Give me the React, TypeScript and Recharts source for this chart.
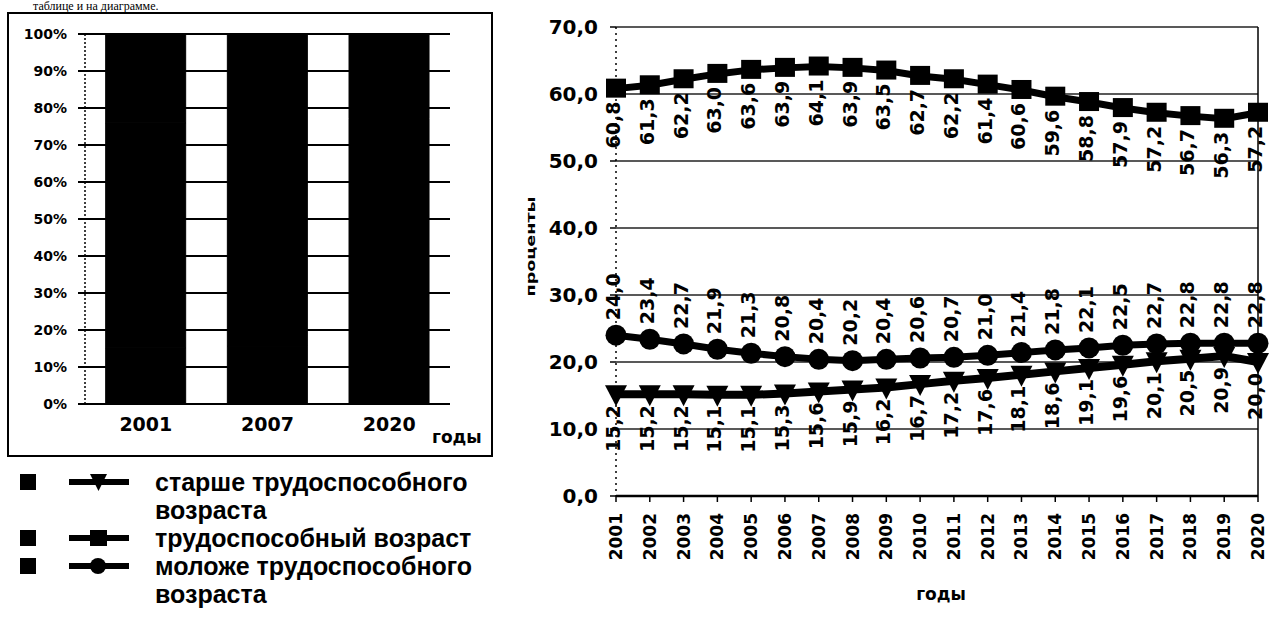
import React from "react"
import {
  BarChart,
  Bar,
  LineChart,
  Line,
  XAxis,
  YAxis,
  CartesianGrid,
  LabelList,
  ReferenceLine
} from "recharts"

// годы для линейной диаграммы
const years = [
  "2001", "2002", "2003", "2004", "2005", "2006", "2007", "2008", "2009", "2010",
  "2011", "2012", "2013", "2014", "2015", "2016", "2017", "2018", "2019", "2020"
]

// доля населения, %
const working = [
  60.8, 61.3, 62.2, 63.0, 63.6, 63.9, 64.1, 63.9, 63.5, 62.7,
  62.2, 61.4, 60.6, 59.6, 58.8, 57.9, 57.2, 56.7, 56.3, 57.2
]
const younger = [
  24.0, 23.4, 22.7, 21.9, 21.3, 20.8, 20.4, 20.2, 20.4, 20.6,
  20.7, 21.0, 21.4, 21.8, 22.1, 22.5, 22.7, 22.8, 22.8, 22.8
]
const older = [
  15.2, 15.2, 15.2, 15.1, 15.1, 15.3, 15.6, 15.9, 16.2, 16.7,
  17.2, 17.6, 18.1, 18.6, 19.1, 19.6, 20.1, 20.5, 20.9, 20.0
]

const lineTicks = [0, 10, 20, 30, 40, 50, 60, 70]

// столбчатая диаграмма (100%)
const barYears = ["2001", "2007", "2020"]
const barOlder = [15.2, 15.6, 20.0]
const barWorking = [60.8, 64.1, 57.2]
const barYounger = [24.0, 20.4, 22.8]
const pctTicks = [0, 10, 20, 30, 40, 50, 60, 70, 80, 90, 100]

const legendItems = [
  { name: ["старше трудоспособного", "возраста"], marker: "triangle" },
  { name: ["трудоспособный возраст"], marker: "square" },
  { name: ["моложе трудоспособного", "возраста"], marker: "circle" }
]

const lineData = years.map((year, i) => ({
  year,
  working: working[i],
  younger: younger[i],
  older: older[i]
}))

const barData = barYears.map((year, i) => ({
  year,
  older: barOlder[i],
  working: barWorking[i],
  younger: barYounger[i]
}))

const FONT = "'DejaVu Sans', sans-serif"
const fmt = (v: number) => v.toFixed(1).replace(".", ",")

function SquareDot(props: any) {
  const { cx, cy, index } = props
  if (cx == null || cy == null) return null
  return <rect key={index} x={cx - 10} y={cy - 10} width={20} height={19} fill="#000" />
}

function CircleDot(props: any) {
  const { cx, cy, index } = props
  if (cx == null || cy == null) return null
  return <circle key={index} cx={cx} cy={cy} r={10.5} fill="#000" />
}

function TriangleDot(props: any) {
  const { cx, cy, index } = props
  if (cx == null || cy == null) return null
  return (
    <path
      key={index}
      d={`M${cx - 11},${cy - 9} L${cx + 11},${cy - 9} L${cx},${cy + 12} Z`}
      fill="#000"
    />
  )
}

// подписи значений, повернутые на 90°
function rotatedLabel(gap: number, below: boolean) {
  return (props: any) => {
    const { x, y, value, index } = props
    if (x == null || y == null) return null
    const lx = x - 3
    const ly = below ? y + gap : y - gap
    return (
      <text
        key={index}
        x={lx}
        y={ly}
        transform={`rotate(-90 ${lx} ${ly})`}
        textAnchor={below ? "end" : "start"}
        dominantBaseline="central"
        fontFamily={FONT}
        fontWeight="bold"
        fontSize={19}
        fill="#000"
      >
        {fmt(Number(value))}
      </text>
    )
  }
}

function YearTick(props: any) {
  const { x, y, payload } = props
  return (
    <text
      x={x}
      y={y}
      transform={`rotate(-90 ${x} ${y})`}
      textAnchor="end"
      dominantBaseline="central"
      fontFamily={FONT}
      fontWeight="bold"
      fontSize={17}
      fill="#000"
    >
      {payload.value}
    </text>
  )
}

function LegendIcon({ marker }: { marker: string }) {
  return (
    <svg width={60} height={20} style={{ display: "block" }}>
      <line x1={0} y1={10} x2={60} y2={10} stroke="#000" strokeWidth={6} />
      {marker === "square" && <rect x={21} y={2} width={17} height={16} fill="#000" />}
      {marker === "circle" && <circle cx={29} cy={10} r={8} fill="#000" />}
      {marker === "triangle" && <path d="M21,2 L38,2 L29.5,19 Z" fill="#000" />}
    </svg>
  )
}

export default function App() {
  return (
    <div
      style={{
        position: "absolute",
        left: 0,
        top: 0,
        width: 1269,
        height: 631,
        overflow: "hidden",
        background: "#fff"
      }}
    >
      <div
        style={{
          position: "absolute",
          left: 33,
          top: 0,
          fontFamily: "'Liberation Serif', 'Times New Roman', serif",
          fontSize: 12,
          lineHeight: "12px",
          whiteSpace: "nowrap"
        }}
      >
        таблице и на диаграмме.
      </div>

      <div
        style={{
          position: "absolute",
          left: 7,
          top: 12,
          width: 486,
          height: 445,
          border: "2px solid #000",
          boxSizing: "border-box"
        }}
      />

      <div style={{ position: "absolute", left: 0, top: 0 }}>
        <BarChart
          width={500}
          height={470}
          data={barData}
          stackOffset="expand"
          barCategoryGap="17%"
          margin={{ top: 34, right: 50, bottom: 0, left: 0 }}
        >
          <CartesianGrid vertical={false} stroke="#000" strokeWidth={2} />
          <XAxis
            dataKey="year"
            height={66}
            axisLine={{ stroke: "#000", strokeWidth: 2 }}
            tickLine={false}
            tickSize={6}
            tickMargin={8}
            tick={{ fontFamily: FONT, fontWeight: "bold", fontSize: 19, fill: "#000" }}
            label={{
              content: (p: any) => {
                const vb = p.viewBox
                return (
                  <text
                    x={vb.x + vb.width - 18}
                    y={vb.y + 39}
                    fontFamily={FONT}
                    fontWeight="bold"
                    fontSize={17}
                    fill="#000"
                  >
                    годы
                  </text>
                )
              }
            }}
          />
          <YAxis
            width={85}
            domain={[0, 1]}
            ticks={pctTicks.map((t) => t / 100)}
            tickFormatter={(v: number) => `${Math.round(v * 100)}%`}
            axisLine={{ stroke: "#000", strokeWidth: 1.5, strokeDasharray: "2 2" }}
            tickLine={{ stroke: "#000", strokeWidth: 2 }}
            tickSize={7}
            tickMargin={11}
            tick={{ fontFamily: FONT, fontWeight: "bold", fontSize: 14, fill: "#000" }}
          />
          <Bar dataKey="older" stackId="a" fill="#000" stroke="#000" strokeWidth={1} isAnimationActive={false} />
          <Bar dataKey="working" stackId="a" fill="#000" stroke="#000" strokeWidth={1} isAnimationActive={false} />
          <Bar dataKey="younger" stackId="a" fill="#000" stroke="#000" strokeWidth={1} isAnimationActive={false} />
        </BarChart>
      </div>

      <div
        style={{
          position: "absolute",
          left: 0,
          top: 468,
          fontFamily: "'Liberation Sans', Arial, sans-serif",
          fontWeight: "bold",
          fontSize: 25,
          lineHeight: "28px"
        }}
      >
        {legendItems.map((item) => (
          <div key={item.name[0]} style={{ position: "relative", paddingLeft: 155 }}>
            <div
              style={{
                position: "absolute",
                left: 20,
                top: 6,
                width: 16,
                height: 16,
                background: "#000"
              }}
            />
            <div style={{ position: "absolute", left: 69, top: 4 }}>
              <LegendIcon marker={item.marker} />
            </div>
            {item.name.map((line) => (
              <div key={line} style={{ whiteSpace: "nowrap" }}>
                {line}
              </div>
            ))}
          </div>
        ))}
      </div>

      <div style={{ position: "absolute", left: 500, top: 0 }}>
        <LineChart
          width={769}
          height={631}
          data={lineData}
          margin={{ top: 27, right: 11, bottom: 0, left: 0 }}
        >
          <CartesianGrid vertical={false} stroke="#222" strokeWidth={1.3} />
          <XAxis
            dataKey="year"
            height={135}
            padding={{ left: 0, right: 0 }}
            interval={0}
            axisLine={{ stroke: "#000", strokeWidth: 2.5 }}
            tickLine={{ stroke: "#000", strokeWidth: 1.5 }}
            tickSize={6}
            tickMargin={11}
            tick={<YearTick />}
            label={{
              content: (p: any) => {
                const vb = p.viewBox
                return (
                  <text
                    x={vb.x + vb.width / 2 + 4}
                    y={vb.y + 104}
                    textAnchor="middle"
                    fontFamily={FONT}
                    fontWeight="bold"
                    fontSize={17}
                    fill="#000"
                  >
                    годы
                  </text>
                )
              }
            }}
          />
          <YAxis
            width={116}
            domain={[0, 70]}
            ticks={lineTicks}
            tickFormatter={fmt}
            axisLine={{ stroke: "#000", strokeWidth: 1.5, strokeDasharray: "2 4" }}
            tickLine={{ stroke: "#000", strokeWidth: 1.5 }}
            tickSize={6}
            tickMargin={12}
            tick={{ fontFamily: FONT, fontWeight: "bold", fontSize: 20, fill: "#000" }}
            label={{
              content: (p: any) => {
                const vb = p.viewBox
                const lx = vb.x + 30
                const ly = vb.y + vb.height / 2 - 15
                return (
                  <text
                    x={lx}
                    y={ly}
                    transform={`rotate(-90 ${lx} ${ly})`}
                    textAnchor="middle"
                    dominantBaseline="central"
                    fontFamily={FONT}
                    fontWeight="bold"
                    fontSize={13}
                    textLength={100}
                    lengthAdjust="spacingAndGlyphs"
                    fill="#000"
                  >
                    проценты
                  </text>
                )
              }
            }}
          />
          <ReferenceLine x="2020" stroke="#000" strokeWidth={1.5} />
          <Line
            dataKey="older"
            stroke="#000"
            strokeWidth={8}
            dot={<TriangleDot />}
            isAnimationActive={false}
          >
            <LabelList dataKey="older" content={rotatedLabel(11, true)} />
          </Line>
          <Line
            dataKey="younger"
            stroke="#000"
            strokeWidth={7}
            dot={<CircleDot />}
            isAnimationActive={false}
          >
            <LabelList dataKey="younger" content={rotatedLabel(15, false)} />
          </Line>
          <Line
            dataKey="working"
            stroke="#000"
            strokeWidth={7}
            dot={<SquareDot />}
            isAnimationActive={false}
          >
            <LabelList dataKey="working" content={rotatedLabel(13, true)} />
          </Line>
        </LineChart>
      </div>
    </div>
  )
}
